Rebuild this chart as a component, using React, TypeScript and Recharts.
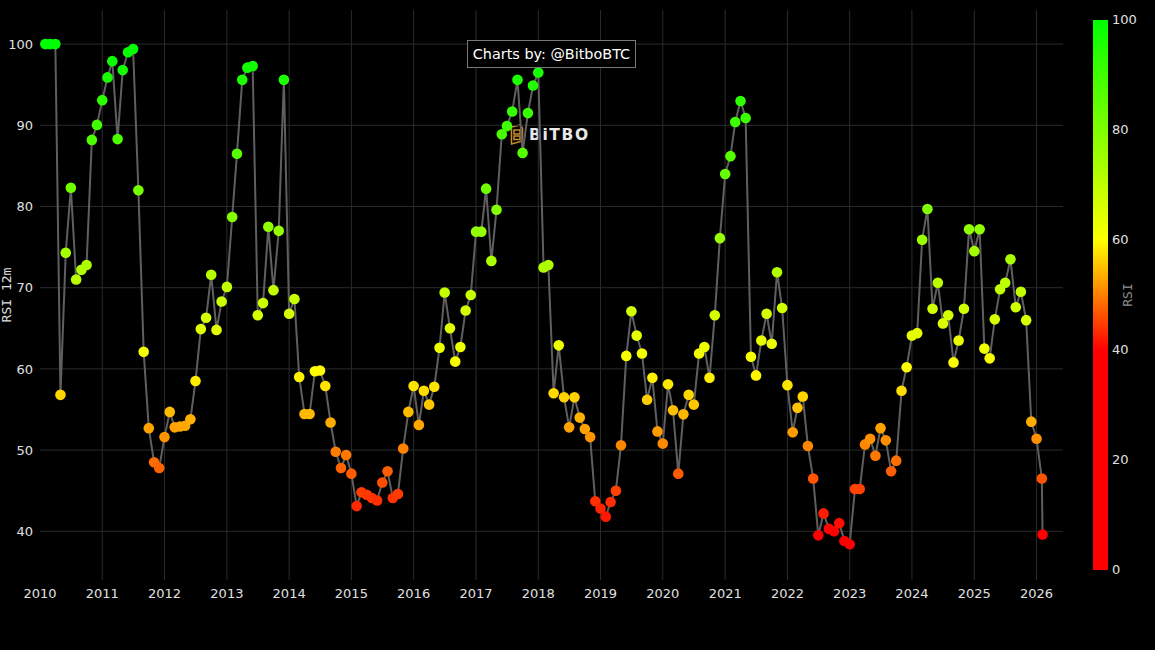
import { LineChart, Line, ReferenceLine, XAxis, YAxis } from "recharts";

const rsi2010 = [100, 100, 100, 56.8, 74.3, 82.3, 71.0, 72.2, 72.8, 88.2, 90.05];
const rsi2011 = [93.1, 95.9, 97.9, 88.3, 96.8, 99.0, 99.4, 82.0, 62.1, 52.7, 48.5, 47.8];
const rsi2012 = [51.6, 54.7, 52.8, 52.9, 53.0, 53.8, 58.5, 64.9, 66.3, 71.6, 64.8, 68.3];
const rsi2013 = [70.1, 78.7, 86.5, 95.6, 97.1, 97.3, 66.6, 68.1, 77.5, 69.7, 77.0, 95.6];
const rsi2014 = [66.8, 68.6, 59.0, 54.45, 54.45, 59.7, 59.8, 57.9, 53.4, 49.8, 47.8, 49.4];
const rsi2015 = [47.1, 43.1, 44.8, 44.5, 44.1, 43.8, 46.0, 47.4, 44.1, 44.6, 50.2, 54.7];
const rsi2016 = [57.9, 53.1, 57.3, 55.6, 57.8, 62.6, 69.4, 65.0, 60.9, 62.7, 67.2, 69.1];
const rsi2017 = [76.9, 76.9, 82.2, 73.3, 79.6, 88.9, 89.9, 91.7, 95.6, 86.6, 91.5, 94.9];
const rsi2018 = [96.5, 72.5, 72.8, 57.0, 62.9, 56.5, 52.8, 56.5, 54.0, 52.6, 51.6, 43.7];
const rsi2019 = [42.8, 41.8, 43.6, 45.0, 50.6, 61.6, 67.1, 64.1, 61.9, 56.2, 58.9, 52.3];
const rsi2020 = [50.8, 58.1, 54.9, 47.1, 54.4, 56.8, 55.6, 61.9, 62.7, 58.9, 66.6, 76.1];
const rsi2021 = [84.0, 86.2, 90.4, 93.0, 90.9, 61.5, 59.2, 63.5, 66.8, 63.1, 71.9, 67.5];
const rsi2022 = [58.0, 52.2, 55.2, 56.6, 50.5, 46.5, 39.5, 42.2, 40.3, 40.0, 41.0, 38.8];
const rsi2023 = [38.4, 45.2, 45.2, 50.7, 51.4, 49.3, 52.7, 51.2, 47.4, 48.7, 57.3, 60.2];
const rsi2024 = [64.1, 64.4, 75.9, 79.7, 67.4, 70.6, 65.6, 66.6, 60.8, 63.5, 67.4, 77.2];
const rsi2025 = [74.5, 77.2, 62.5, 61.3, 66.1, 69.8, 70.6, 73.5, 67.6, 69.5, 66.0, 53.5];
const rsi2026 = [51.4, 46.5];
const latestRsi = 39.6;

const yearTicks = [2010, 2011, 2012, 2013, 2014, 2015, 2016, 2017, 2018, 2019, 2020, 2021, 2022, 2023, 2024, 2025, 2026];
const rsiTicks = [40, 50, 60, 70, 80, 90, 100];
const colorbarTicks = [100, 80, 60, 40, 20, 0];

const rsiByYear = [
  rsi2010, rsi2011, rsi2012, rsi2013, rsi2014, rsi2015, rsi2016, rsi2017, rsi2018,
  rsi2019, rsi2020, rsi2021, rsi2022, rsi2023, rsi2024, rsi2025, rsi2026,
];

const data: Array<{ t: number; rsi: number }> = [];
rsiByYear.forEach((values, i) => {
  // 2010 starts in February
  const firstMonth = i === 0 ? 1 : 0;
  values.forEach((rsi, m) => {
    data.push({ t: Date.UTC(2010 + i, m + firstMonth, 1), rsi });
  });
});
data.push({ t: Date.UTC(2026, 1, 5), rsi: latestRsi });

const tickStyle = { fill: "#e0e0e0", fontSize: 13, fontFamily: "DejaVu Sans" };
const gridColor = "#2b2b2b";

function rsiColor(v: number) {
  if (v <= 40) return "rgb(255,0,0)";
  if (v <= 60) return `rgb(255,${Math.round(((v - 40) / 20) * 255)},0)`;
  return `rgb(${Math.round(((100 - v) / 40) * 255)},255,0)`;
}

function RsiDot(props: any) {
  const { cx, cy, payload, index } = props;
  return <circle key={index} cx={cx} cy={cy} r={5.3} fill={rsiColor(payload.rsi)} />;
}

function Logo() {
  return (
    <div style={{ position: "absolute", left: 510, top: 124, display: "flex", alignItems: "center", zIndex: 0 }}>
      <svg width={14} height={21}>
        <path d="M1.5 3 L10 1 L12.5 4 V17 L1.5 20 Z M4 6 H10 V10 H4 Z M4 12 H10 V15.5 H4 Z" fill="none" stroke="#c98a2b" strokeWidth={1.5} />
      </svg>
      <span style={{ marginLeft: 5, color: "#e8e8e8", fontFamily: "DejaVu Sans", fontWeight: 700, fontSize: 15.5, letterSpacing: 1.6 }}>
        BiTBO
      </span>
    </div>
  );
}

function Colorbar() {
  return (
    <>
      <div
        style={{
          position: "absolute",
          left: 1093,
          top: 20,
          width: 15,
          height: 550,
          background: "linear-gradient(to bottom, #00ff00 0%, #ffff00 40%, #ff0000 60%, #ff0000 100%)",
        }}
      />
      {colorbarTicks.map((v) => (
        <div
          key={v}
          style={{
            position: "absolute",
            left: 1112,
            top: 20 + (100 - v) * 5.5 - 9,
            lineHeight: "18px",
            color: "#e0e0e0",
            fontSize: 13,
            fontFamily: "DejaVu Sans",
          }}
        >
          {v}
        </div>
      ))}
      <div
        style={{
          position: "absolute",
          left: 1127,
          top: 295,
          transform: "translate(-50%, -50%) rotate(-90deg)",
          color: "#8f8f8f",
          fontSize: 13,
          fontFamily: "DejaVu Sans Mono",
        }}
      >
        RSI
      </div>
    </>
  );
}

export default function App() {
  return (
    <div style={{ position: "absolute", left: 0, top: 0, width: 1155, height: 650, background: "#000", overflow: "hidden" }}>
      <Logo />
      <div style={{ position: "absolute", left: 0, top: 0, zIndex: 1 }}>
        <LineChart width={1155} height={650} data={data} margin={{ top: 10, right: 92, bottom: 0, left: 0 }}>
          {rsiTicks.map((v) => (
            <ReferenceLine key={v} y={v} stroke={gridColor} strokeWidth={1} />
          ))}
          {yearTicks.slice(1).map((y) => (
            <ReferenceLine key={y} x={Date.UTC(y, 0, 1)} stroke={gridColor} strokeWidth={1} />
          ))}
          <XAxis
            dataKey="t"
            type="number"
            scale="linear"
            domain={[Date.UTC(2010, 0, 1), Date.UTC(2026, 5, 5)]}
            ticks={yearTicks.map((y) => Date.UTC(y, 0, 1))}
            tickFormatter={(v) => String(new Date(v).getUTCFullYear())}
            interval={0}
            height={70}
            axisLine={false}
            tickLine={false}
            tick={tickStyle}
            tickMargin={3}
          />
          <YAxis
            type="number"
            domain={[34.0, 104.2]}
            ticks={rsiTicks}
            interval={0}
            width={40}
            axisLine={false}
            tickLine={false}
            tick={tickStyle}
            tickMargin={1}
            allowDataOverflow
            label={{
              value: "RSI 12m",
              angle: -90,
              position: "insideLeft",
              offset: 6,
              style: { fill: "#e0e0e0", fontSize: 13, fontFamily: "DejaVu Sans Mono", textAnchor: "middle" },
            }}
          />
          <Line
            type="linear"
            dataKey="rsi"
            stroke="#5f5f5f"
            strokeWidth={2}
            dot={<RsiDot />}
            activeDot={false}
            isAnimationActive={false}
          />
        </LineChart>
      </div>
      <Colorbar />
      <div
        style={{
          position: "absolute",
          left: 467,
          top: 40,
          width: 167,
          height: 26,
          lineHeight: "26px",
          textAlign: "center",
          border: "1px solid #777",
          background: "#000",
          color: "#fff",
          fontSize: 14.4,
          fontFamily: "DejaVu Sans",
          zIndex: 2,
        }}
      >
        Charts by: @BitboBTC
      </div>
    </div>
  );
}
